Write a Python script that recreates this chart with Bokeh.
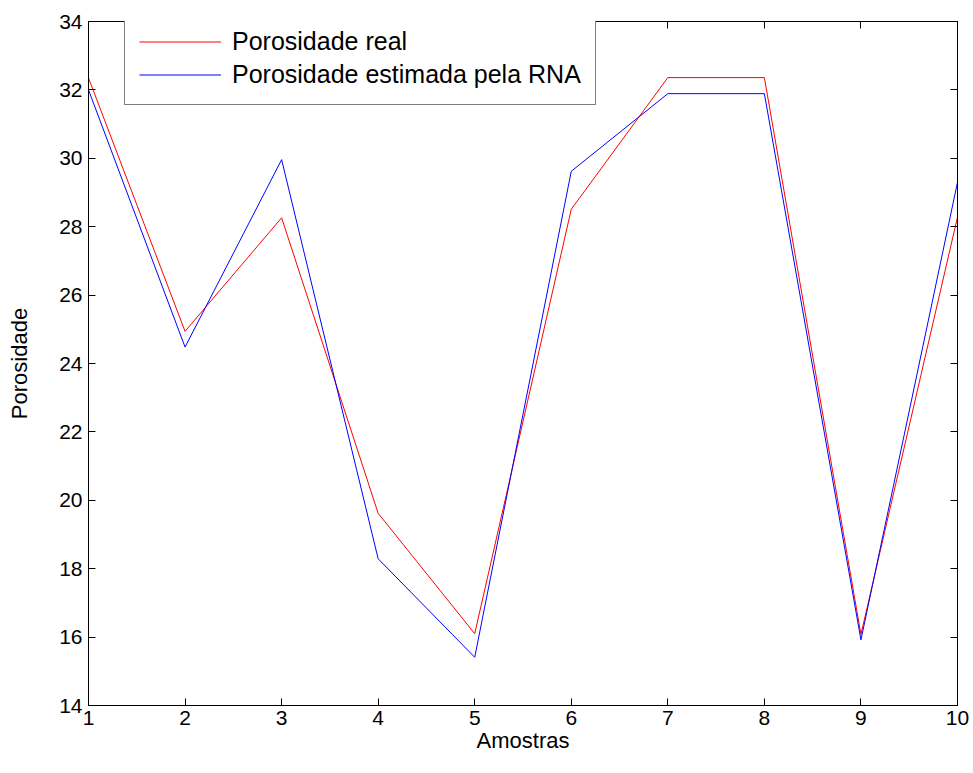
from bokeh.plotting import figure
from bokeh.models import (ColumnDataSource, Range1d, LinearAxis, FixedTicker,
                          Legend, LegendItem)
from bokeh.embed import file_html
from bokeh.resources import INLINE

amostras = [1, 2, 3, 4, 5, 6, 7, 8, 9, 10]
porosidade_real = [32.35, 24.94, 28.26, 19.62, 16.10, 28.51, 32.36, 32.36, 16.08, 28.28]
porosidade_rna = [32.00, 24.48, 29.96, 18.29, 15.41, 29.62, 31.89, 31.89, 15.92, 29.30]
x_ticks = [1, 2, 3, 4, 5, 6, 7, 8, 9, 10]
y_ticks = [14, 16, 18, 20, 22, 24, 26, 28, 30, 32, 34]

FONT = "Liberation Sans"

src = ColumnDataSource(dict(x=amostras, real=porosidade_real, rna=porosidade_rna))

p = figure(width=969, height=765, output_backend="svg", toolbar_location=None,
           x_range=Range1d(1, 10), y_range=Range1d(14, 34),
           min_border_left=88, min_border_right=12, min_border_top=21,
           min_border_bottom=60, x_axis_label="Amostras", y_axis_label="Porosidade")
p.frame_width = 869
p.frame_height = 684
p.background_fill_color = "white"
p.border_fill_color = "white"
p.outline_line_color = "black"
p.outline_line_width = 1
p.xgrid.visible = False
p.ygrid.visible = False

r1 = p.line("x", "real", source=src, line_color="#ff0000", line_width=1)
r2 = p.line("x", "rna", source=src, line_color="#0000ff", line_width=1)

for ax, ticks in ((p.xaxis[0], x_ticks), (p.yaxis[0], y_ticks)):
    ax.ticker = FixedTicker(ticks=ticks)
    ax.major_tick_in = 7
    ax.major_tick_out = 0
    ax.minor_tick_in = 0
    ax.minor_tick_out = 0
    ax.axis_line_color = "black"
    ax.major_tick_line_color = "black"
    ax.major_label_text_font = FONT
    ax.major_label_text_font_size = "21px"
    ax.major_label_text_color = "black"
    ax.axis_label_text_font = FONT
    ax.axis_label_text_font_size = "22px"
    ax.axis_label_text_font_style = "normal"
    ax.axis_label_text_color = "black"

xa = p.xaxis[0]
ya = p.yaxis[0]
xa.major_label_standoff = 5
xa.axis_label_standoff = 0
ya.major_label_standoff = 6
ya.axis_label_standoff = 24

top = LinearAxis(ticker=FixedTicker(ticks=x_ticks))
right = LinearAxis(ticker=FixedTicker(ticks=y_ticks))
for ax in (top, right):
    ax.major_tick_in = 7
    ax.major_tick_out = 0
    ax.minor_tick_in = 0
    ax.minor_tick_out = 0
    ax.axis_line_color = "black"
    ax.major_tick_line_color = "black"
    ax.major_label_text_font_size = "1px"
    ax.major_label_text_color = None
    ax.major_label_standoff = 0
p.add_layout(top, "above")
p.add_layout(right, "right")

legend = Legend(items=[LegendItem(label="Porosidade real", renderers=[r1]),
                       LegendItem(label="Porosidade estimada pela RNA", renderers=[r2])],
                location=(36, 600))
legend.border_line_color = "black"
legend.border_line_width = 1
legend.background_fill_color = "white"
legend.background_fill_alpha = 1
legend.label_text_font = FONT
legend.label_text_font_size = "25px"
legend.label_text_color = "black"
legend.padding = 14
legend.spacing = 2
legend.margin = 0
legend.glyph_width = 82
legend.glyph_height = 31
legend.label_height = 31
legend.label_standoff = 11
p.add_layout(legend, "center")

open("out.html", "w").write(file_html(p, INLINE))
